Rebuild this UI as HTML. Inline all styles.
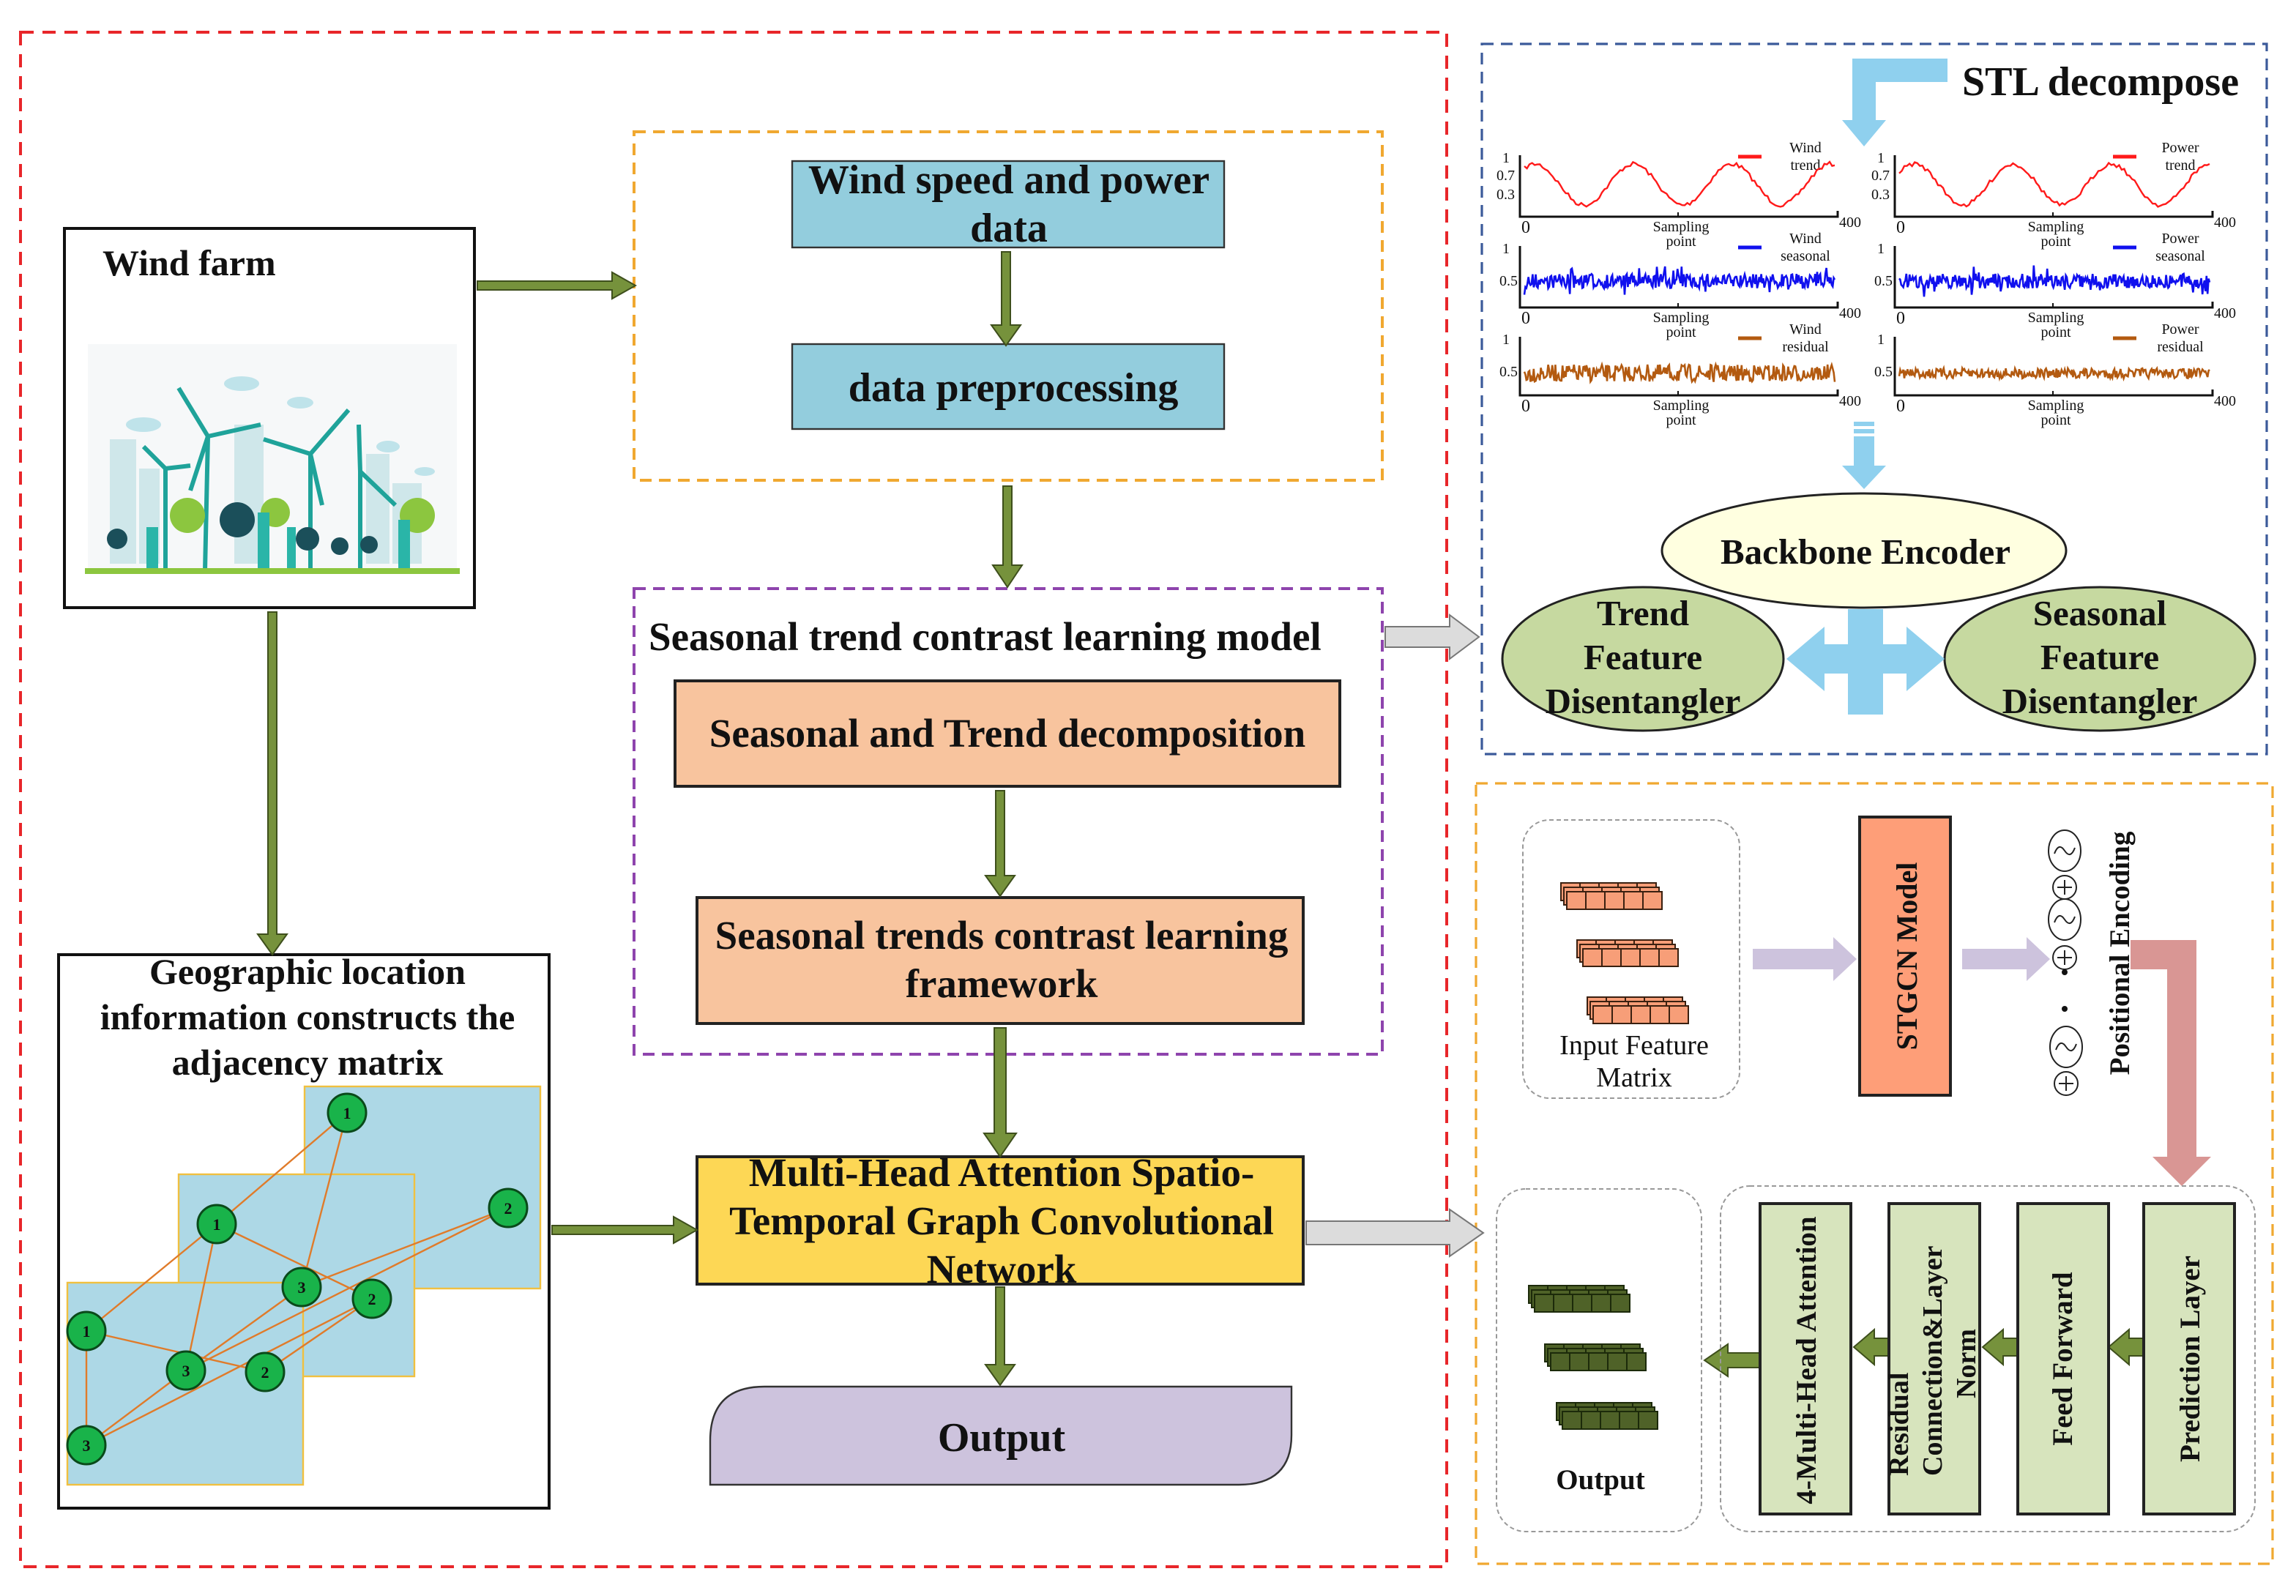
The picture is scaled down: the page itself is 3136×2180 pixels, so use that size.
<!DOCTYPE html>
<html><head><meta charset="utf-8"><style>html,body{margin:0;padding:0;background:#fff}svg{display:block}text{font-family:"Liberation Serif",serif;font-weight:bold;fill:#111}</style></head><body>
<svg id="s" width="3136" height="2180" viewBox="0 0 1568 1090" xmlns="http://www.w3.org/2000/svg">
<rect x="0" y="0" width="1568" height="1090" fill="#fff"/>
<!-- dashed containers -->
<rect x="14" y="22" width="974" height="1048" fill="none" stroke="#e8262a" stroke-width="2" stroke-dasharray="9,6"/>
<rect x="1012" y="30" width="536" height="485" fill="none" stroke="#3b5a9a" stroke-width="1.6" stroke-dasharray="8,5"/>
<rect x="1008" y="535" width="544" height="533" fill="none" stroke="#f0a830" stroke-width="1.6" stroke-dasharray="8,5"/>
<rect x="433" y="90" width="511" height="238" fill="none" stroke="#f0a830" stroke-width="2" stroke-dasharray="8,5"/>
<rect x="433" y="402" width="511" height="318" fill="none" stroke="#8e44ad" stroke-width="2" stroke-dasharray="8,5"/>

<!-- Wind farm -->
<rect x="44" y="156" width="280" height="259" fill="#fff" stroke="#111" stroke-width="2"/>
<text x="70" y="188" font-size="25">Wind farm</text>
<rect x="60" y="235" width="252" height="157" fill="#f6f8f9"/>
<g fill="#cfe7ea"><rect x="75" y="300" width="18" height="85"/><rect x="95" y="320" width="14" height="65"/><rect x="250" y="310" width="16" height="75"/><rect x="268" y="330" width="20" height="55"/><rect x="160" y="290" width="20" height="95"/></g>
<g fill="#bfe3ea"><ellipse cx="98" cy="290" rx="12" ry="5"/><ellipse cx="165" cy="262" rx="12" ry="5"/><ellipse cx="205" cy="275" rx="9" ry="4"/><ellipse cx="265" cy="305" rx="8" ry="4"/><ellipse cx="290" cy="322" rx="7" ry="3"/></g>
<g stroke="#1fa39a" stroke-width="3" fill="none">
<line x1="142" y1="298" x2="140" y2="390"/><line x1="142" y1="298" x2="122" y2="265"/><line x1="142" y1="298" x2="178" y2="290"/><line x1="142" y1="298" x2="130" y2="335"/>
<line x1="212" y1="310" x2="212" y2="390"/><line x1="212" y1="310" x2="238" y2="280"/><line x1="212" y1="310" x2="180" y2="300"/><line x1="212" y1="310" x2="220" y2="345"/>
<line x1="246" y1="322" x2="246" y2="390"/><line x1="246" y1="322" x2="270" y2="345"/><line x1="246" y1="322" x2="245" y2="290"/>
<line x1="113" y1="320" x2="113" y2="390"/><line x1="113" y1="320" x2="98" y2="305"/><line x1="113" y1="320" x2="130" y2="318"/>
</g>
<g fill="#8cc63f"><circle cx="128" cy="352" r="12"/><circle cx="285" cy="352" r="12"/><circle cx="188" cy="350" r="10"/></g>
<g fill="#1b4f5a"><circle cx="162" cy="355" r="12"/><circle cx="80" cy="368" r="7"/><circle cx="210" cy="368" r="8"/><circle cx="232" cy="373" r="6"/><circle cx="252" cy="372" r="6"/></g>
<g fill="#2ab5a8"><rect x="100" y="360" width="8" height="28"/><rect x="176" y="350" width="8" height="38"/><rect x="196" y="360" width="6" height="28"/><rect x="272" y="355" width="8" height="33"/></g>
<rect x="58" y="388" width="256" height="4" fill="#8cc63f"/>

<!-- Geographic box -->
<rect x="40" y="652" width="335" height="378" fill="#fff" stroke="#111" stroke-width="2"/>
<text font-size="25" text-anchor="middle"><tspan x="210" y="672">Geographic location</tspan><tspan x="210" y="703">information constructs the</tspan><tspan x="210" y="734">adjacency matrix</tspan></text>
<g fill="#add8e6" stroke="#f0c040" stroke-width="1.2"><rect x="208" y="742" width="161" height="138"/><rect x="122" y="802" width="161" height="138"/><rect x="46" y="876" width="161" height="138"/></g>
<g stroke="#e07b2a" stroke-width="1.2">
<line x1="237" y1="760" x2="148" y2="836"/><line x1="237" y1="760" x2="206" y2="879"/><line x1="347" y1="825" x2="206" y2="879"/><line x1="347" y1="825" x2="127" y2="936"/>
<line x1="148" y1="836" x2="59" y2="909"/><line x1="148" y1="836" x2="127" y2="936"/><line x1="148" y1="836" x2="254" y2="887"/><line x1="206" y1="879" x2="127" y2="936"/>
<line x1="254" y1="887" x2="59" y2="987"/><line x1="254" y1="887" x2="181" y2="937"/><line x1="59" y1="909" x2="59" y2="987"/><line x1="59" y1="909" x2="181" y2="937"/><line x1="127" y1="936" x2="59" y2="987"/>
</g>
<g font-size="11" text-anchor="middle">
<g stroke="#0a4a1a" stroke-width="1.5" fill="#19b34a">
<circle cx="237" cy="760" r="13"/><circle cx="347" cy="825" r="13"/><circle cx="148" cy="836" r="13"/><circle cx="206" cy="879" r="13"/><circle cx="254" cy="887" r="13"/><circle cx="59" cy="909" r="13"/><circle cx="127" cy="936" r="13"/><circle cx="181" cy="937" r="13"/><circle cx="59" cy="987" r="13"/></g>
<text x="237" y="764">1</text><text x="347" y="829">2</text><text x="148" y="840">1</text><text x="206" y="883">3</text><text x="254" y="891">2</text><text x="59" y="913">1</text><text x="127" y="940">3</text><text x="181" y="941">2</text><text x="59" y="991">3</text></g>

<!-- middle boxes -->
<rect x="541" y="110" width="295" height="59" fill="#93cddd" stroke="#333" stroke-width="1.2"/>
<text font-size="28" text-anchor="middle"><tspan x="689" y="132">Wind speed and power</tspan><tspan x="689" y="165">data</tspan></text>
<rect x="541" y="235" width="295" height="58" fill="#93cddd" stroke="#333" stroke-width="1.2"/>
<text x="692" y="274" font-size="28" text-anchor="middle">data preprocessing</text>
<text x="443" y="444" font-size="27.5">Seasonal trend contrast learning model</text>
<rect x="461" y="465" width="454" height="72" fill="#f8c49e" stroke="#222" stroke-width="2"/>
<text x="688" y="510" font-size="27.5" text-anchor="middle">Seasonal and Trend decomposition</text>
<rect x="476" y="613" width="414" height="86" fill="#f8c49e" stroke="#222" stroke-width="2"/>
<text font-size="27.5" text-anchor="middle"><tspan x="684" y="648">Seasonal trends contrast learning</tspan><tspan x="684" y="681">framework</tspan></text>
<rect x="476" y="790" width="414" height="87" fill="#fdd755" stroke="#222" stroke-width="2"/>
<text font-size="27.5" text-anchor="middle"><tspan x="684" y="810">Multi-Head Attention Spatio-</tspan><tspan x="684" y="843">Temporal Graph Convolutional</tspan><tspan x="684" y="876">Network</tspan></text>
<path d="M522,947 H882 V980 Q882,1014 846,1014 H485 V984 Q485,947 522,947 Z" fill="#cdc3dd" stroke="#333" stroke-width="1.2"/>
<text x="684" y="991" font-size="28" text-anchor="middle">Output</text>

<!-- green arrows -->
<g fill="#76923c" stroke="#3e4f1c" stroke-width="1">
<polygon points="326,192 418,192 418,186 434,195 418,204 418,198 326,198"/>
<polygon points="684,172 690,172 690,222 697,222 687,236 677,222 684,222"/>
<polygon points="685,332 691,332 691,386 698,386 688,401 678,386 685,386"/>
<polygon points="680,540 686,540 686,598 693,598 683,612 673,598 680,598"/>
<polygon points="679,702 687,702 687,774 694,774 683,790 672,774 679,774"/>
<polygon points="680,879 686,879 686,932 693,932 683,946 673,932 680,932"/>
<polygon points="183,418 189,418 189,638 196,638 186,652 176,638 183,638"/>
<polygon points="377,837 460,837 460,831 476,840 460,849 460,843 377,843"/>
<polygon points="1290,914 1280,914 1280,908 1266,920 1280,932 1280,926 1290,926"/>
<polygon points="1378,914 1368,914 1368,908 1354,920 1368,932 1368,926 1378,926"/>
<polygon points="1464,914 1454,914 1454,908 1440,920 1454,932 1454,926 1464,926"/>
<polygon points="1202,924 1180,924 1180,918 1164,929 1180,940 1180,934 1202,934"/>
</g>
<!-- gray arrows -->
<g fill="#dcdcdc" stroke="#777" stroke-width="1">
<polygon points="946,428 990,428 990,420 1010,435 990,450 990,442 946,442"/>
<polygon points="892,834 990,834 990,826 1013,842 990,858 990,850 892,850"/>
</g>

<!-- STL panel -->
<text x="1340" y="65" font-size="28">STL decompose</text>
<polygon points="1330,40 1265,40 1265,82 1258,82 1273,100 1288,82 1281,82 1281,56 1330,56" fill="#8fd0ee"/>
<g fill="#8fd0ee"><rect x="1266" y="288" width="14" height="3"/><rect x="1266" y="293" width="14" height="3"/><polygon points="1266,298 1280,298 1280,318 1288,318 1273,334 1258,318 1266,318"/></g>
<g id="charts"></g>

<ellipse cx="1273" cy="376" rx="138" ry="39" fill="#ffffe0" stroke="#222" stroke-width="1.5"/>
<text x="1274" y="385" font-size="24.5" text-anchor="middle">Backbone Encoder</text>
<ellipse cx="1122" cy="450" rx="96" ry="49" fill="#c6d9a0" stroke="#222" stroke-width="1.5"/>
<text font-size="24.5" text-anchor="middle"><tspan x="1122" y="427">Trend</tspan><tspan x="1122" y="457">Feature</tspan><tspan x="1122" y="487">Disentangler</tspan></text>
<ellipse cx="1434" cy="450" rx="106" ry="49" fill="#c6d9a0" stroke="#222" stroke-width="1.5"/>
<text font-size="24.5" text-anchor="middle"><tspan x="1434" y="427">Seasonal</tspan><tspan x="1434" y="457">Feature</tspan><tspan x="1434" y="487">Disentangler</tspan></text>
<g fill="#8fd0ee"><polygon points="1220,450 1246,428 1246,440 1262,440 1262,416 1286,416 1286,440 1302,440 1302,428 1328,450 1302,472 1302,460 1286,460 1286,488 1262,488 1262,460 1246,460 1246,472"/></g>

<!-- bottom right panel -->
<rect x="1040" y="560" width="148" height="190" rx="18" fill="none" stroke="#999" stroke-width="1" stroke-dasharray="3,2"/>
<g id="cubes"></g>
<text font-size="19" text-anchor="middle" style="font-weight:normal"><tspan x="1116" y="720">Input Feature</tspan><tspan x="1116" y="742">Matrix</tspan></text>
<g fill="#cdc3dd"><polygon points="1197,648 1252,648 1252,640 1268,655 1252,670 1252,662 1197,662"/><polygon points="1340,648 1384,648 1384,640 1400,655 1384,670 1384,662 1340,662"/></g>
<rect x="1270" y="558" width="62" height="190" fill="#fe9e78" stroke="#222" stroke-width="2"/>
<text transform="translate(1309,653) rotate(-90)" font-size="20" text-anchor="middle">STGCN Model</text>
<g stroke="#222" stroke-width="1" fill="none">
<ellipse cx="1410" cy="581" rx="11" ry="14"/><circle cx="1410" cy="606" r="8"/><ellipse cx="1410" cy="628" rx="11" ry="14"/><circle cx="1410" cy="654" r="8"/><ellipse cx="1411" cy="715" rx="11" ry="14"/><circle cx="1411" cy="740" r="8"/>
<path d="M1403,583 q3,-8 7,-2 q4,6 7,-2"/><path d="M1403,630 q3,-8 7,-2 q4,6 7,-2"/><path d="M1404,717 q3,-8 7,-2 q4,6 7,-2"/>
<path d="M1410,601v10M1405,606h10M1410,649v10M1405,654h10M1411,735v10M1406,740h10"/>
</g>
<circle cx="1410" cy="664" r="2" fill="#111"/><circle cx="1410" cy="689" r="2" fill="#111"/>
<text transform="translate(1454,651) rotate(-90)" font-size="19.5" text-anchor="middle">Positional Encoding</text>
<polygon points="1455,642 1500,642 1500,790 1510,790 1490,810 1470,790 1480,790 1480,662 1455,662" fill="#d99694"/>

<rect x="1175" y="810" width="365" height="236" rx="20" fill="none" stroke="#999" stroke-width="1" stroke-dasharray="3,2"/>
<rect x="1022" y="812" width="140" height="234" rx="20" fill="none" stroke="#999" stroke-width="1" stroke-dasharray="3,2"/>
<g id="ocubes"></g>
<text x="1093" y="1017" font-size="19.5" text-anchor="middle">Output</text>
<g fill="#d7e4bd" stroke="#222" stroke-width="2">
<rect x="1202" y="822" width="62" height="212"/><rect x="1290" y="822" width="62" height="212"/><rect x="1378" y="822" width="62" height="212"/><rect x="1464" y="822" width="62" height="212"/></g>
<text transform="translate(1240,929) rotate(-90)" font-size="19.5" text-anchor="middle">4-Multi-Head Attention</text>
<text transform="translate(1303,1008) rotate(-90)" font-size="19"><tspan x="0" y="0">Residual</tspan><tspan x="0" y="23">Connection&amp;Layer</tspan><tspan x="53" y="46">Norm</tspan></text>
<text transform="translate(1415,928) rotate(-90)" font-size="19.5" text-anchor="middle">Feed Forward</text>
<text transform="translate(1502,928) rotate(-90)" font-size="19.5" text-anchor="middle">Prediction Layer</text>
</svg>
<script>
(function(){
var NS="http://www.w3.org/2000/svg",ch=document.getElementById("charts");
var seed=7;function rnd(){seed=(seed*16807)%2147483647;return seed/2147483647;}
function el(t,a,txt){var e=document.createElementNS(NS,t);for(var k in a)e.setAttribute(k,a[k]);if(txt)e.textContent=txt;return e;}
var cols=["#ff1a1a","#1010ee","#b35a10"];
var names=[["Wind","trend"],["Wind","seasonal"],["Wind","residual"],["Power","trend"],["Power","seasonal"],["Power","residual"]];
var nw="font-weight:normal";
for(var c=0;c<2;c++){for(var r=0;r<3;r++){
 var x0=c?1294:1038,x1=x0+217,top=[106,168,230][r],base=[148,210,270][r];
 var g=el("g",{});ch.appendChild(g);
 g.appendChild(el("polyline",{points:x0+","+top+" "+x0+","+base+" "+x1+","+base+" "+x1+","+(base-4),fill:"none",stroke:"#111","stroke-width":1.5}));
 g.appendChild(el("line",{x1:x0+108,y1:base,x2:x0+108,y2:base-3,stroke:"#111"}));
 g.appendChild(el("text",{x:x0+1,y:base+11,"font-size":12,style:nw},"0"));
 g.appendChild(el("text",{x:x1+1,y:base+7,"font-size":10,style:nw},"400"));
 g.appendChild(el("text",{x:x0+110,y:base+10,"font-size":10,"text-anchor":"middle",style:nw},"Sampling"));
 g.appendChild(el("text",{x:x0+110,y:base+20,"font-size":10,"text-anchor":"middle",style:nw},"point"));
 g.appendChild(el("text",{x:x0-12,y:top+5,"font-size":10,style:nw},"1"));
 if(r==0){g.appendChild(el("text",{x:x0-16,y:top+17,"font-size":10,style:nw},"0.7"));g.appendChild(el("text",{x:x0-16,y:top+30,"font-size":10,style:nw},"0.3"));}
 else g.appendChild(el("text",{x:x0-14,y:top+27,"font-size":10,style:nw},"0.5"));
 var n=names[c*3+r];
 g.appendChild(el("line",{x1:x1-68,y1:top+1,x2:x1-52,y2:top+1,stroke:cols[r],"stroke-width":2.5}));
 g.appendChild(el("text",{x:x1-22,y:top-2,"font-size":10,"text-anchor":"middle",style:nw},n[0]));
 g.appendChild(el("text",{x:x1-22,y:top+10,"font-size":10,"text-anchor":"middle",style:nw},n[1]));
 var pts=[],N=r==0?120:300;
 for(var i=0;i<=N;i++){var x=x0+3+i*(212/N),y;
  if(r==0){y=top+20-14*Math.sin(i/N*Math.PI*6.3+(c?0.6:0.9))+ (rnd()-0.5)*3;}
  else if(r==1){y=top+24+(rnd()-0.5)*(rnd()<0.1?22:10);}
  else{y=top+25+(rnd()-0.5)*(c?7:12);}
  pts.push(x.toFixed(1)+","+y.toFixed(1));}
 g.appendChild(el("polyline",{points:pts.join(" "),fill:"none",stroke:cols[r],"stroke-width":r==0?1.2:1.3}));
}}
function stack(gid,x,y,fill,stroke){var g=document.getElementById(gid);
 for(var k=2;k>=0;k--){for(var i=0;i<5;i++){g.appendChild(el("rect",{x:x+i*13-k*2+4,y:y+k*-3+6,width:13,height:12,fill:fill,stroke:stroke,"stroke-width":1}));}}}
stack("cubes",1066,603,"#f79e78","#3a2010");stack("cubes",1077,642,"#f79e78","#3a2010");stack("cubes",1084,681,"#f79e78","#3a2010");
stack("ocubes",1044,878,"#4f6228","#1c2a0a");stack("ocubes",1055,918,"#4f6228","#1c2a0a");stack("ocubes",1063,958,"#4f6228","#1c2a0a");
})();
</script>
</body></html>
